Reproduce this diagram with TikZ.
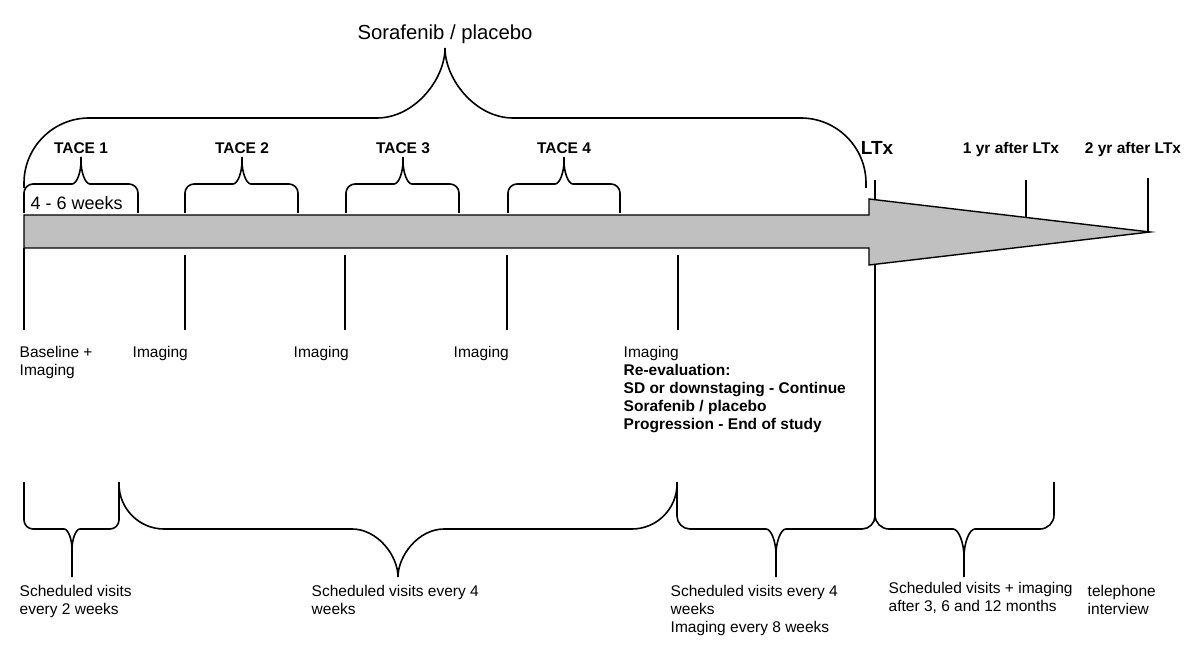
\documentclass[tikz,border=0pt]{standalone}
\usepackage{fontspec}
\setmainfont{Liberation Sans}
\definecolor{shaft}{RGB}{192,192,192}
% brace: from x, to x, tip x, end y, flat y, tip y, end radius, tip radius
\newcommand{\tlbrace}[8]{%
  \pgfmathsetmacro\bse{sign(#4-#5)}%
  \pgfmathsetmacro\bst{sign(#6-#5)}%
  \pgfmathsetmacro\bty{min(2.5*#8,abs(#6-#5))}%
  \draw[brc] (#1,#4) -- (#1,{#5+#7*\bse})
    .. controls (#1,{#5+0.45*#7*\bse}) and ({#1+0.45*#7},#5) .. ({#1+#7},#5)
    -- ({#3-#8},#5) .. controls ({#3-0.45*#8},#5) and (#3,{#5+0.55*\bty*\bst}) .. (#3,{#5+\bty*\bst})
    -- (#3,#6)
    (#2,#4) -- (#2,{#5+#7*\bse})
    .. controls (#2,{#5+0.45*#7*\bse}) and ({#2-0.45*#7},#5) .. ({#2-#7},#5)
    -- ({#3+#8},#5) .. controls ({#3+0.45*#8},#5) and (#3,{#5+0.55*\bty*\bst}) .. (#3,{#5+\bty*\bst});
}

\begin{document}
\begin{tikzpicture}[x=1pt,y=-1pt,line width=1.4pt,node distance=161pt,
  txt/.style={font=\fontsize{15.5}{18}\selectfont,align=left,anchor=north west,inner sep=0pt},
  lbl/.style={font=\fontsize{15.5}{18}\selectfont\bfseries,anchor=base,inner sep=0pt},
  brc/.style={line width=1.6pt}]
  \useasboundingbox (0,0) rectangle (1200,660);

  % ticks
  \draw (24,248) -- (24,330);
  \foreach \x in {185,345,507,678}
    \draw (\x,255) -- (\x,330);
  \draw (875,180) -- (875,482);
  \draw (1026,180) -- (1026,217);
  \draw (1148,178) -- (1148,231);

  % time arrow
  \filldraw[fill=shaft] (24,215) -- (869,215) -- (869,199) -- (1150,232)
    -- (869,265) -- (869,248) -- (24,248) -- cycle;

  % braces above
  \tlbrace{24}{866}{445}{188}{118}{48}{65}{68}
  \tlbrace{24}{138}{81}{213}{184}{157}{9}{9}
  \tlbrace{185}{298}{242}{213}{184}{157}{9}{9}
  \tlbrace{346}{459}{403}{213}{184}{157}{9}{9}
  \tlbrace{508}{620}{564}{213}{184}{157}{9}{9}

  % braces below
  \tlbrace{24}{119}{72}{482}{529}{577}{9}{8}
  \tlbrace{119}{677}{398}{482}{529}{577}{45}{46}
  \tlbrace{677}{875}{776}{482}{529}{577}{13}{10}
  \tlbrace{875}{1054}{964}{482}{529}{577}{14}{11}

  % labels above
  \node[anchor=base,inner sep=0pt,font=\fontsize{20.3}{24}\selectfont] (sora) at (445,39.5) {Sorafenib / placebo};
  \node[lbl] (t1) at (81,153.5) {TACE 1};
  \node[lbl] (t2) [right of=t1] {TACE 2};
  \node[lbl] (t3) [right of=t2] {TACE 3};
  \node[lbl] (t4) [right of=t3] {TACE 4};
  \node[anchor=west,inner sep=0pt,font=\fontsize{18}{20}\selectfont] (wk) at (30,203) {4 - 6 weeks};
  \node[lbl,font=\fontsize{19}{22}\selectfont\bfseries] (ltx) at (877,155) {LTx};
  \node[lbl] (y1) at (1011,153.5) {1 yr after LTx};
  \node[lbl] (y2) at (1133,153.5) {2 yr after LTx};

  % labels below the arrow
  \node[txt] (base) at (19,346) {Baseline +\\Imaging};
  \node[txt] (im1) at (132,346) {Imaging};
  \node[txt] (im2) at (293,346) {Imaging};
  \node[txt] (im3) at (453,346) {Imaging};
  \node[txt] (im4) at (623,346) {Imaging\\\textbf{Re-evaluation:}\\\textbf{SD or downstaging - Continue}\\\textbf{Sorafenib / placebo}\\\textbf{Progression - End of study}};

  % visits
  \node[txt] (sv1) at (19,585) {Scheduled visits\\every 2 weeks};
  \node[txt] (sv2) at (311,585) {Scheduled visits every 4\\weeks};
  \node[txt] (sv3) at (670,585) {Scheduled visits every 4\\weeks\\Imaging every 8 weeks};
  \node[txt] (sv4) at (888,582) {Scheduled visits + imaging\\after 3, 6 and 12 months};
  \node[txt] (tel) at (1087,585) {telephone\\interview};
\end{tikzpicture}
\end{document}
